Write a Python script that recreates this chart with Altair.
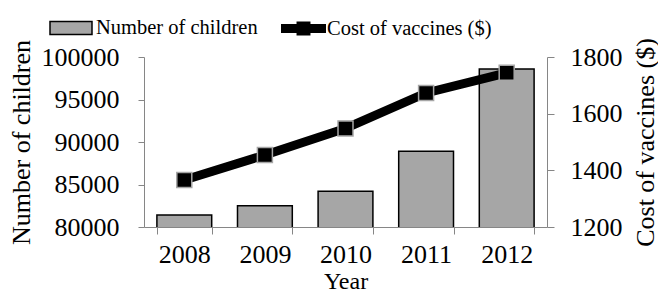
import altair as alt
import pandas as pd

years = ["2008", "2009", "2010", "2011", "2012"]
children = [81400, 82500, 84200, 88900, 98600]
cost = [1366, 1454, 1548, 1673, 1744]
child_ticks = [80000, 85000, 90000, 95000, 100000]
cost_ticks = [1200, 1400, 1600, 1800]
series_bar = "Number of children"
series_line = "Cost of vaccines ($)"

df = pd.DataFrame({"Year": years, "children": children, "cost": cost,
                   "s1": series_bar, "s2": series_line})

FONT = "Liberation Serif"
AX = "#868686"
BAR = "#a6a6a6"

x = alt.X("Year:N", scale=alt.Scale(paddingInner=0.32, paddingOuter=0.16),
          axis=alt.Axis(title="Year", labelAngle=0, tickBand="extent", tickSize=7,
                        labelPadding=7, titlePadding=2, titleFontSize=24,
                        domainColor=AX, tickColor=AX))

base = alt.Chart(df).encode(x=x)

bars = base.mark_bar(stroke="black", strokeWidth=1.5, clip=True).encode(
    y=alt.Y("children:Q", scale=alt.Scale(domain=[80000, 100000], zero=False),
            axis=alt.Axis(title="Number of children", values=child_ticks, tickSize=6,
                          format="d", labelPadding=19, titlePadding=7,
                          domainColor=AX, tickColor=AX, grid=False)),
    fill=alt.Fill("s1:N", scale=alt.Scale(domain=[series_bar], range=[BAR]),
                  legend=alt.Legend(title=None, orient="none", legendX=-95, legendY=-51,
                                    symbolType="M-1,-0.31H1V0.31H-1Z", symbolSize=1764,
                                    symbolStrokeColor="black", symbolStrokeWidth=1.5,
                                    labelOffset=3, labelLimit=400)),
)

yc = alt.Y("cost:Q", scale=alt.Scale(domain=[1200, 1800], zero=False),
           axis=alt.Axis(title="Cost of vaccines ($)", orient="right", values=cost_ticks,
                         format="d", tickSize=7, labelPadding=16, titlePadding=10,
                         titleAngle=-90, titleBaseline="top",
                         domainColor=AX, tickColor=AX, grid=False))

line = base.mark_line(strokeWidth=9).encode(
    y=yc,
    stroke=alt.Stroke("s2:N", scale=alt.Scale(domain=[series_line], range=["black"]),
                      legend=alt.Legend(title=None, orient="none", legendX=137, legendY=-51,
                                        symbolType="M-1,-0.2H-0.31V-0.31H0.31V-0.2H1V0.2H0.31V0.31H-0.31V0.2H-1Z",
                                        symbolSize=2025, symbolFillColor="black",
                                        symbolStrokeWidth=0, labelOffset=1, labelLimit=400)),
)
pts = base.mark_point(shape="square", filled=True, fill="black", stroke=BAR,
                      strokeWidth=1.5, size=225, opacity=1).encode(y=yc)

right = alt.layer(line, pts)

chart = alt.layer(bars, right).resolve_scale(y="independent", fill="independent", stroke="independent").properties(
    width=403, height=170, autosize=alt.AutoSizeParams(type="none"),
    padding={"left": 136, "top": 49, "right": 111, "bottom": 90}
).configure_view(stroke=None).configure_axis(
    labelFont=FONT, titleFont=FONT, labelFontSize=26, titleFontSize=26,
    labelColor="black", titleColor="black", titleFontWeight="normal"
).configure_legend(labelFont=FONT, labelFontSize=20.5, labelColor="black")

chart.save("out.html", embed_options={"renderer": "svg", "actions": False})
